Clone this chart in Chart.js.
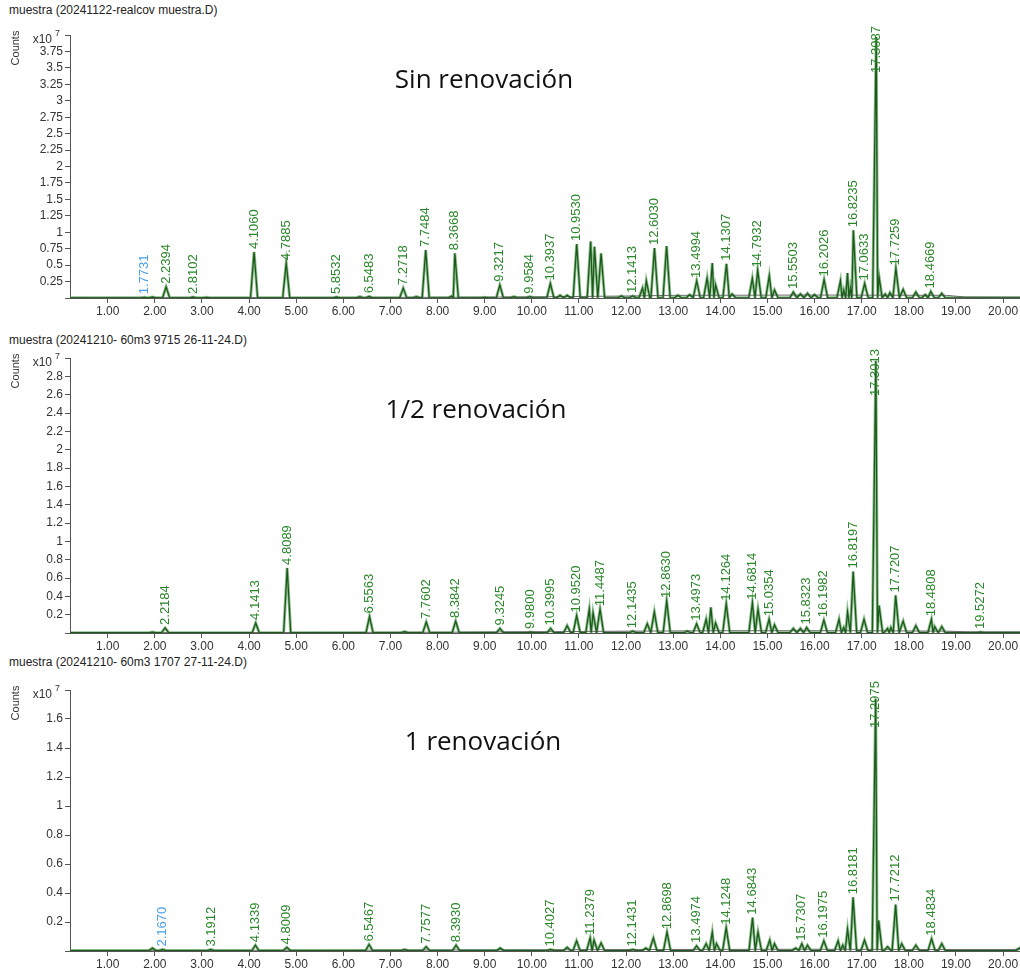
<!DOCTYPE html>
<html>
<head>
<meta charset="utf-8">
<script src="https://cdn.jsdelivr.net/npm/chart.js@4.4.1/dist/chart.umd.min.js"></script>
<style>
  body { margin: 0; background: #fff; }
  #wrap { position: relative; width: 1020px; height: 969px; overflow: hidden; }
  .box { position: absolute; left: 0; width: 1020px; }
  .ttl { position: absolute; left: 9px; font: 12px "Liberation Sans", Arial, sans-serif; color: #222; white-space: nowrap; }
  .note { position: absolute; font: 26px "Open Sans", sans-serif; color: #111; white-space: nowrap; transform: translateX(-50%); }
</style>
</head>
<body>
<div id="wrap">
  <div class="ttl" style="top:3px">muestra (20241122-realcov muestra.D)</div>
  <div class="box" style="top:0"><canvas id="c1" width="1020" height="320"></canvas></div>
  <div class="note" style="left:484px;top:60px">Sin renovación</div>

  <div class="ttl" style="top:333px">muestra (20241210- 60m3 9715 26-11-24.D)</div>
  <div class="box" style="top:325px"><canvas id="c2" width="1020" height="330"></canvas></div>
  <div class="note" style="left:476px;top:390px">1/2 renovación</div>

  <div class="ttl" style="top:655px">muestra (20241210- 60m3 1707 27-11-24.D)</div>
  <div class="box" style="top:655px"><canvas id="c3" width="1020" height="314"></canvas></div>
  <div class="note" style="left:483px;top:722px">1 renovación</div>
</div>
<script>
// retention time axis (min)
const xTicks = [1, 2, 3, 4, 5, 6, 7, 8, 9, 10, 11, 12, 13, 14, 15, 16, 17, 18, 19, 20];

// y ticks, x10^7 counts
const yTicks1 = [0, 0.25, 0.5, 0.75, 1, 1.25, 1.5, 1.75, 2, 2.25, 2.5, 2.75, 3, 3.25, 3.5, 3.75, 4];
const yTicks2 = [0, 0.2, 0.4, 0.6, 0.8, 1, 1.2, 1.4, 1.6, 1.8, 2, 2.2, 2.4, 2.6, 2.8, 3];
const yTicks3 = [0, 0.2, 0.4, 0.6, 0.8, 1, 1.2, 1.4, 1.6, 1.8];

// --- Sin renovación ---
const p1Rt = [1.7731, 1.95, 2.2394, 2.8102, 3.1, 4.1060, 4.7885, 5.8532, 6.35, 6.5483, 7.2718, 7.55, 7.7484, 8.30, 8.3668,
  9.00, 9.3217, 9.62, 9.9584, 10.3937, 10.6, 10.75, 10.9530, 11.25, 11.33, 11.47, 11.9, 12.1413, 12.35, 12.43, 12.6030,
  12.86, 13.1, 13.35, 13.4994, 13.72, 13.83, 13.9, 14.1307, 14.25, 14.68, 14.7932, 15.04, 15.15, 15.5503, 15.7, 15.85,
  16.0, 16.2026, 16.55, 16.62, 16.70, 16.76, 16.8235, 17.0633, 17.3087, 17.37, 17.5, 17.6, 17.7259, 17.88, 18.15, 18.35,
  18.4669, 18.7];
const p1H = [0.01, 0.015, 0.17, 0.015, 0.01, 0.70, 0.53, 0.015, 0.02, 0.025, 0.15, 0.02, 0.73, 0.03, 0.68,
  0.01, 0.20, 0.02, 0.02, 0.22, 0.04, 0.04, 0.82, 0.86, 0.78, 0.68, 0.03, 0.03, 0.15, 0.26, 0.76,
  0.79, 0.04, 0.05, 0.26, 0.30, 0.53, 0.20, 0.52, 0.06, 0.30, 0.42, 0.34, 0.12, 0.09, 0.06, 0.07,
  0.05, 0.28, 0.26, 0.12, 0.38, 0.15, 1.03, 0.22, 3.97, 0.32, 0.06, 0.08, 0.45, 0.13, 0.09, 0.05,
  0.10, 0.07];
const p1Labeled = [1.7731, 2.2394, 2.8102, 4.1060, 4.7885, 5.8532, 6.5483, 7.2718, 7.7484, 8.3668, 9.3217, 9.9584,
  10.3937, 10.9530, 12.1413, 12.6030, 13.4994, 14.1307, 14.7932, 15.5503, 16.2026, 16.8235, 17.0633, 17.3087,
  17.7259, 18.4669];
const p1Blue = [1.7731];
const p1GreyRt = [0.2, 3, 6, 9, 10.5, 12, 13, 16, 18.8, 19.2, 20.36];
const p1GreyVal = [0.004, 0.006, 0.008, 0.012, 0.02, 0.03, 0.04, 0.045, 0.04, 0.015, 0.012];

// --- 1/2 renovación ---
const p2Rt = [1.95, 2.2184, 4.1413, 4.8089, 6.5563, 7.30, 7.7602, 8.3842, 9.3245, 9.9800, 10.3995, 10.75, 10.9520,
  11.22, 11.30, 11.4487, 12.1435, 12.45, 12.60, 12.8630, 13.3, 13.4973, 13.70, 13.80, 13.90, 14.1264, 14.6814, 14.80,
  15.0354, 15.15, 15.55, 15.70, 15.8323, 16.1982, 16.52, 16.62, 16.70, 16.8197, 17.05, 17.3013, 17.37, 17.55, 17.62,
  17.7207, 17.88, 18.15, 18.4808, 18.55, 18.70, 19.5272];
const p2H = [0.01, 0.055, 0.11, 0.71, 0.18, 0.015, 0.12, 0.13, 0.05, 0.01, 0.05, 0.08, 0.19,
  0.26, 0.22, 0.26, 0.02, 0.10, 0.23, 0.35, 0.02, 0.10, 0.15, 0.28, 0.11, 0.32, 0.33, 0.26,
  0.15, 0.09, 0.05, 0.05, 0.06, 0.14, 0.15, 0.06, 0.23, 0.67, 0.15, 2.97, 0.30, 0.05, 0.06,
  0.41, 0.13, 0.08, 0.15, 0.07, 0.07, 0.01];
const p2Labeled = [2.2184, 4.1413, 4.8089, 6.5563, 7.7602, 8.3842, 9.3245, 9.9800, 10.3995, 10.9520, 11.4487,
  12.1435, 12.8630, 13.4973, 14.1264, 14.6814, 15.0354, 15.8323, 16.1982, 16.8197, 17.3013, 17.7207, 18.4808, 19.5272];
const p2Blue = [];
const p2GreyRt = [0.2, 4, 8, 10.5, 12, 14, 17, 18.8, 19.3, 20.36];
const p2GreyVal = [0.004, 0.005, 0.008, 0.015, 0.02, 0.025, 0.025, 0.02, 0.012, 0.012];

// --- 1 renovación ---
const p3Rt = [1.95, 2.1670, 3.1912, 4.1339, 4.8009, 6.5467, 7.30, 7.7577, 8.3930, 9.33, 10.4027, 10.75, 10.95, 11.2379,
  11.32, 11.47, 12.1431, 12.42, 12.58, 12.8698, 13.4974, 13.70, 13.83, 13.92, 14.1248, 14.6843, 14.80, 15.05, 15.15,
  15.60, 15.7307, 15.85, 16.1975, 16.50, 16.60, 16.70, 16.8181, 17.06, 17.2975, 17.36, 17.55, 17.7212, 17.85, 18.15,
  18.4834, 18.70, 20.35];
const p3H = [0.02, 0.01, 0.01, 0.04, 0.025, 0.045, 0.01, 0.03, 0.04, 0.02, 0.01, 0.025, 0.07, 0.09,
  0.075, 0.055, 0.01, 0.02, 0.09, 0.13, 0.035, 0.05, 0.13, 0.05, 0.16, 0.23, 0.13, 0.075, 0.05,
  0.02, 0.05, 0.04, 0.07, 0.07, 0.04, 0.15, 0.37, 0.075, 1.74, 0.21, 0.03, 0.32, 0.05, 0.04,
  0.085, 0.05, 0.02];
const p3Labeled = [2.1670, 3.1912, 4.1339, 4.8009, 6.5467, 7.7577, 8.3930, 10.4027, 11.2379, 12.1431, 12.8698,
  13.4974, 14.1248, 14.6843, 15.7307, 16.1975, 16.8181, 17.2975, 17.7212, 18.4834];
const p3Blue = [2.1670];
const p3GreyRt = [0.2, 5, 10, 12, 16, 19, 20.2, 20.36];
const p3GreyVal = [0.004, 0.005, 0.008, 0.01, 0.012, 0.01, 0.01, 0.015];

const X_MIN = 0.2, X_MAX = 20.36;
const PEAK_W = 0.075; // half width of a drawn peak, min

// peak list -> line points (baseline, apex, baseline)
function trace(rts, hs) {
  const pts = [{x: X_MIN, y: 0.003}];
  rts.forEach((t, i) => {
    const prev = i ? rts[i - 1] : -Infinity;
    const next = i < rts.length - 1 ? rts[i + 1] : Infinity;
    const wl = Math.min(PEAK_W, (t - prev) / 2);
    const wr = Math.min(PEAK_W, (next - t) / 2);
    pts.push({x: t - wl, y: 0.003}, {x: t, y: hs[i]}, {x: t + wr, y: 0.003});
  });
  pts.push({x: X_MAX, y: 0.003});
  return pts;
}

const peakLabels = {
  id: 'peakLabels',
  afterDatasetsDraw(chart, args, opts) {
    const {ctx, chartArea, scales: {x, y}} = chart;
    ctx.save();
    ctx.font = '13px "Liberation Sans", Arial, sans-serif';
    ctx.textBaseline = 'middle';
    ctx.textAlign = 'left';
    opts.labeled.forEach(t => {
      const h = opts.heights[opts.rts.indexOf(t)];
      const txt = t.toFixed(4);
      const tw = ctx.measureText(txt).width;
      const px = x.getPixelForValue(t);
      const py = Math.max(y.getPixelForValue(h) - 3, chartArea.top - 9 + tw);
      ctx.save();
      ctx.translate(px, py);
      ctx.rotate(-Math.PI / 2);
      ctx.fillStyle = opts.blue.includes(t) ? '#4a9fe8' : '#2a862a';
      ctx.fillText(txt, 0, 0);
      ctx.restore();
    });
    ctx.restore();
  },
  afterDraw(chart) {
    const {ctx, chartArea} = chart;
    ctx.save();
    ctx.fillStyle = '#333';
    ctx.font = '11px "Liberation Sans", Arial, sans-serif';
    ctx.textAlign = 'center';
    ctx.textBaseline = 'middle';
    ctx.translate(16, chartArea.top + 13);
    ctx.rotate(-Math.PI / 2);
    ctx.fillText('Counts', 0, 0);
    ctx.restore();
    ctx.save();
    ctx.fillStyle = '#333';
    ctx.textBaseline = 'middle';
    ctx.font = '12px "Liberation Sans", Arial, sans-serif';
    ctx.textAlign = 'right';
    ctx.fillText('x10', 52, chartArea.top + 5);
    ctx.font = '9px "Liberation Sans", Arial, sans-serif';
    ctx.textAlign = 'left';
    ctx.fillText('7', 55, chartArea.top - 1);
    ctx.restore();
  }
};

function makeChart(id, rts, hs, labeled, blue, greyRt, greyVal, yTicks, padTop, xHeight) {
  const yMax = yTicks[yTicks.length - 1];
  const axisGrid = {drawOnChartArea: false, drawTicks: true, tickLength: 5, color: '#555'};
  return new Chart(document.getElementById(id).getContext('2d'), {
    type: 'line',
    data: {
      datasets: [
        {data: trace(rts, hs), borderColor: '#1b5a1b', borderWidth: 1.3},
        {data: greyRt.map((t, i) => ({x: t, y: greyVal[i]})), borderColor: '#6a6a6a', borderWidth: 1},
        {data: trace(rts, hs), borderColor: 'rgba(70,150,70,0.6)', borderWidth: 3}
      ]
    },
    options: {
      responsive: false,
      animation: false,
      events: [],
      elements: {point: {radius: 0}, line: {tension: 0, fill: false}},
      layout: {padding: {top: padTop, left: 0, right: 0, bottom: 0}},
      plugins: {
        legend: {display: false},
        tooltip: {enabled: false},
        peakLabels: {rts: rts, heights: hs, labeled: labeled, blue: blue}
      },
      scales: {
        x: {
          type: 'linear',
          min: X_MIN,
          max: X_MAX,
          grid: axisGrid,
          border: {color: '#555'},
          afterBuildTicks: s => { s.ticks = xTicks.map(v => ({value: v})); },
          afterFit: s => { s.height = xHeight; },
          ticks: {
            maxRotation: 0,
            autoSkip: false,
            padding: 1,
            color: '#333',
            font: {family: 'Liberation Sans', size: 12},
            callback: v => v.toFixed(2)
          }
        },
        y: {
          type: 'linear',
          min: 0,
          max: yMax,
          grid: axisGrid,
          border: {color: '#555'},
          afterBuildTicks: s => { s.ticks = yTicks.map(v => ({value: v})); },
          afterFit: s => { s.width = 70; },
          ticks: {
            autoSkip: false,
            padding: 2,
            color: '#333',
            font: {family: 'Liberation Sans', size: 12},
            callback: v => (v === 0 || v === yMax) ? '' : String(v)
          }
        }
      }
    },
    plugins: [peakLabels]
  });
}

makeChart('c1', p1Rt, p1H, p1Labeled, p1Blue, p1GreyRt, p1GreyVal, yTicks1, 35, 22);
makeChart('c2', p2Rt, p2H, p2Labeled, p2Blue, p2GreyRt, p2GreyVal, yTicks2, 33, 22);
makeChart('c3', p3Rt, p3H, p3Labeled, p3Blue, p3GreyRt, p3GreyVal, yTicks3, 35, 18);
</script>
</body>
</html>
